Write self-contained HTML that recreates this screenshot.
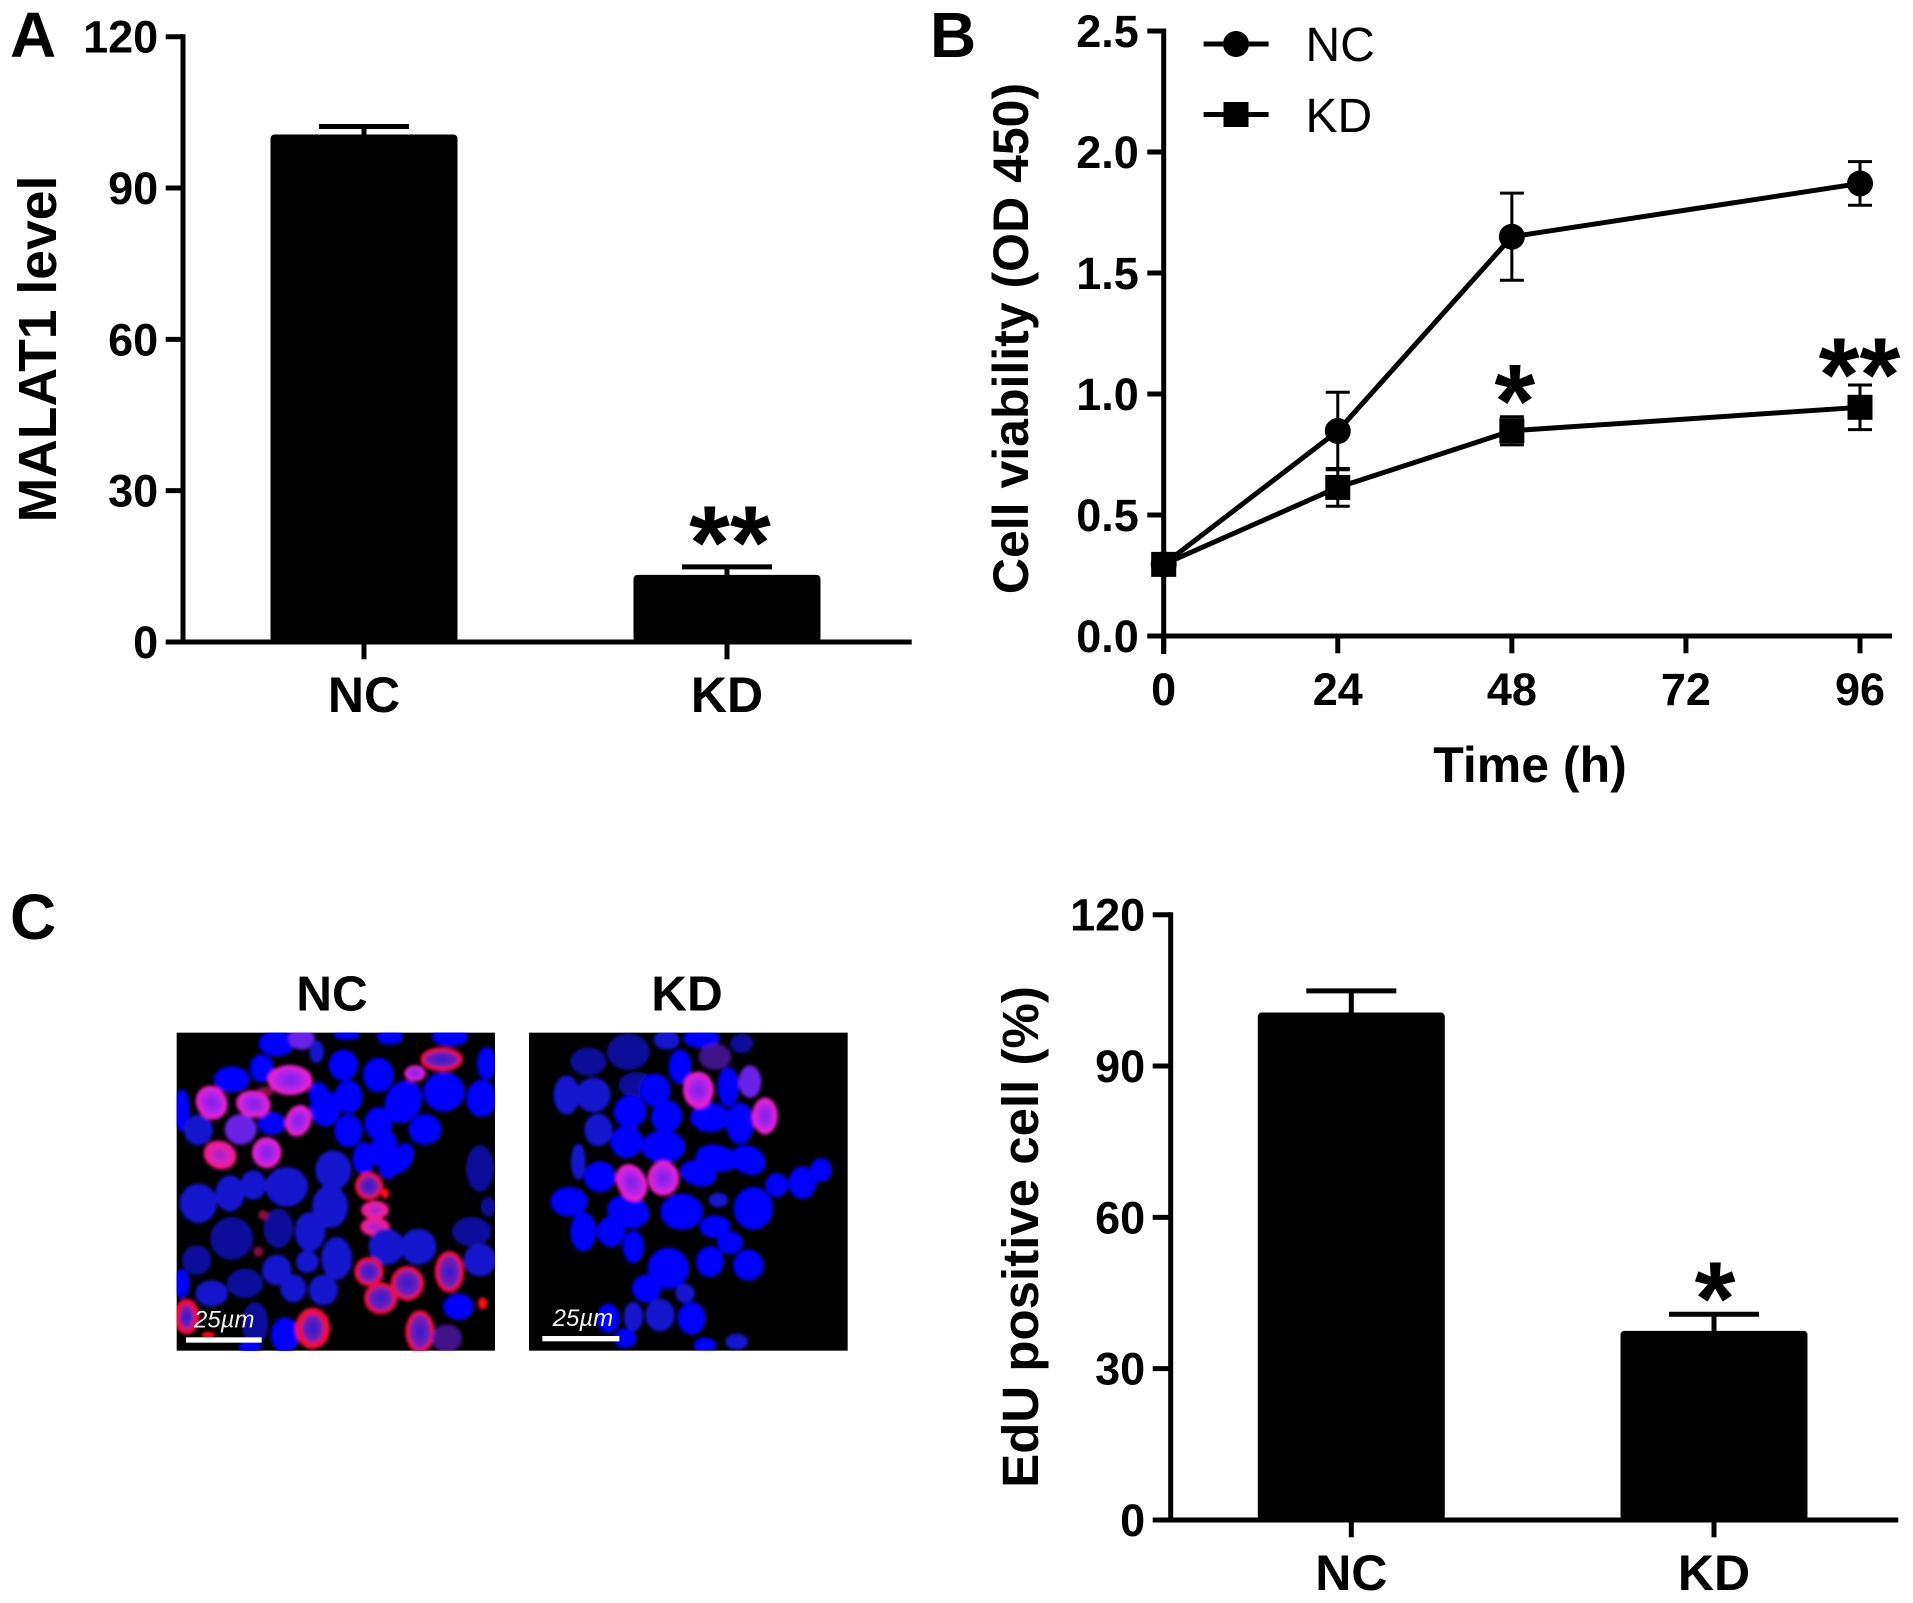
<!DOCTYPE html>
<html lang="en">
<head>
<meta charset="utf-8">
<title>MALAT1 knockdown figure</title>
<style>
html,body{margin:0;padding:0;background:#fff;}
svg{display:block;font-family:"Liberation Sans",sans-serif;}
.tt{font-size:50px;font-weight:bold;}
.pl{font-size:64px;font-weight:bold;}
.b{fill:#0606ff;stroke:#0606ff;stroke-width:8}
.d{fill:#1616cf;stroke:#1616cf;stroke-width:8}
.e{fill:#10109c;stroke:#10109c;stroke-width:8}
.p{fill:#6a22e6;stroke:#6a22e6;stroke-width:8}
.m{fill:url(#gm)}.k{fill:url(#gk)}
.r{fill:url(#gr);stroke:#f01040;stroke-width:12}
.s{fill:#ff0a14}.q{fill:#8a1040}
</style>
</head>
<body>
<svg id="fig" xmlns="http://www.w3.org/2000/svg" width="1913" height="1603" viewBox="0 0 1913 1603">
<defs>
<radialGradient id="gm"><stop offset="0" stop-color="#7a22ea"/><stop offset=".55" stop-color="#b024ea"/><stop offset="1" stop-color="#ff22c8"/></radialGradient>
<radialGradient id="gk"><stop offset="0" stop-color="#9a20d0"/><stop offset=".6" stop-color="#e020b0"/><stop offset="1" stop-color="#ff1a80"/></radialGradient>
<radialGradient id="gr"><stop offset="0" stop-color="#2a20d8"/><stop offset="1" stop-color="#9a1aa0"/></radialGradient>
<filter id="soft" x="-5%" y="-5%" width="110%" height="110%"><feGaussianBlur stdDeviation="5"/></filter>
<clipPath id="clipNc"><rect x="20" y="8" width="955" height="954"/></clipPath>
<clipPath id="clipKd"><rect x="12" y="8" width="956" height="954"/></clipPath>
</defs>

<text class="pl" x="10" y="57">A</text>
<text class="pl" x="930" y="57">B</text>
<text class="pl" x="10" y="939">C</text>

<text class="tt" style="font-size:53.5px" transform="translate(56 349) rotate(-90)" text-anchor="middle">MALAT1 level</text>
<text class="tt" transform="translate(1028 338.5) rotate(-90)" text-anchor="middle">Cell viability (OD 450)</text>
<text class="tt" x="1530" y="782" text-anchor="middle">Time (h)</text>
<text class="tt" style="font-size:51px" transform="translate(1038 1237) rotate(-90)" text-anchor="middle">EdU positive cell (%)</text>

<text x="332" y="1010.5" font-size="49.5" font-weight="bold" text-anchor="middle">NC</text>
<text x="687" y="1010.5" font-size="49.5" font-weight="bold" text-anchor="middle">KD</text>

<g transform="translate(170 1030) scale(.33333)">
<rect x="20" y="8" width="955" height="954" fill="#000"/>
<g clip-path="url(#clipNc)"><g filter="url(#soft)">
<ellipse class="b" cx="320" cy="40" rx="50" ry="35"/>
<ellipse class="p" cx="395" cy="25" rx="35" ry="30"/>
<ellipse class="d" cx="440" cy="65" rx="18" ry="30"/>
<ellipse class="b" cx="520" cy="105" rx="40" ry="42"/>
<ellipse class="b" cx="625" cy="135" rx="42" ry="48"/>
<ellipse class="b" cx="840" cy="20" rx="50" ry="25"/>
<ellipse class="b" cx="950" cy="100" rx="25" ry="45"/>
<ellipse class="b" cx="822" cy="185" rx="58" ry="55"/>
<ellipse class="b" cx="935" cy="205" rx="42" ry="52"/>
<ellipse class="b" cx="700" cy="215" rx="50" ry="62" transform="rotate(25 700 215)"/>
<ellipse class="b" cx="765" cy="298" rx="45" ry="42"/>
<ellipse class="b" cx="625" cy="280" rx="38" ry="45"/>
<ellipse class="b" cx="535" cy="302" rx="38" ry="45"/>
<ellipse class="b" cx="535" cy="200" rx="38" ry="46"/>
<ellipse class="b" cx="465" cy="235" rx="42" ry="50"/>
<ellipse class="b" cx="445" cy="190" rx="25" ry="30"/>
<ellipse class="b" cx="275" cy="115" rx="32" ry="38"/>
<ellipse class="b" cx="185" cy="148" rx="50" ry="35"/>
<ellipse class="b" cx="640" cy="355" rx="35" ry="50" transform="rotate(25 640 355)"/>
<ellipse class="b" cx="695" cy="385" rx="28" ry="45" transform="rotate(30 695 385)"/>
<ellipse class="b" cx="655" cy="415" rx="25" ry="28"/>
<ellipse class="b" cx="582" cy="385" rx="30" ry="45"/>
<ellipse class="b" cx="35" cy="240" rx="20" ry="58"/>
<ellipse class="d" cx="85" cy="300" rx="40" ry="42"/>
<ellipse class="b" cx="305" cy="280" rx="38" ry="30"/>
<ellipse class="b" cx="660" cy="20" rx="35" ry="20"/>
<ellipse class="b" cx="530" cy="15" rx="35" ry="10"/>
<ellipse class="p" cx="212" cy="298" rx="44" ry="42"/>
<ellipse class="m" cx="290" cy="368" rx="44" ry="46"/>
<ellipse class="m" cx="735" cy="130" rx="32" ry="24"/>
<ellipse class="q" cx="285" cy="185" rx="25" ry="15"/>
<ellipse class="m" cx="125" cy="218" rx="46" ry="52" transform="rotate(-30 125 218)"/>
<ellipse class="m" cx="250" cy="222" rx="52" ry="40" transform="rotate(10 250 222)"/>
<ellipse class="m" cx="360" cy="150" rx="67" ry="45"/>
<ellipse class="m" cx="385" cy="272" rx="38" ry="48" transform="rotate(20 385 272)"/>
<ellipse class="k" cx="150" cy="375" rx="50" ry="42" transform="rotate(20 150 375)"/>
<ellipse class="r" cx="815" cy="88" rx="58" ry="30"/>
<ellipse class="r" cx="597" cy="468" rx="36" ry="36"/>
<ellipse class="s" cx="645" cy="490" rx="12" ry="16"/>
<ellipse class="k" cx="615" cy="540" rx="42" ry="28"/>
<ellipse class="k" cx="615" cy="590" rx="44" ry="28"/>
<ellipse class="d" cx="85" cy="520" rx="52" ry="55"/>
<ellipse class="d" cx="180" cy="490" rx="40" ry="50"/>
<ellipse class="d" cx="250" cy="465" rx="35" ry="40"/>
<ellipse class="d" cx="350" cy="470" rx="60" ry="55"/>
<ellipse class="d" cx="490" cy="420" rx="50" ry="55"/>
<ellipse class="d" cx="480" cy="530" rx="50" ry="60"/>
<ellipse class="e" cx="185" cy="625" rx="60" ry="60"/>
<ellipse class="e" cx="325" cy="595" rx="40" ry="55"/>
<ellipse class="d" cx="420" cy="605" rx="42" ry="55"/>
<ellipse class="d" cx="500" cy="685" rx="42" ry="60"/>
<ellipse class="e" cx="80" cy="690" rx="40" ry="40"/>
<ellipse class="d" cx="320" cy="720" rx="40" ry="42"/>
<ellipse class="d" cx="412" cy="695" rx="30" ry="30"/>
<ellipse class="e" cx="225" cy="760" rx="50" ry="40"/>
<ellipse class="d" cx="125" cy="790" rx="45" ry="35"/>
<ellipse class="d" cx="370" cy="775" rx="35" ry="38"/>
<ellipse class="d" cx="460" cy="780" rx="40" ry="42"/>
<ellipse class="b" cx="35" cy="760" rx="20" ry="40"/>
<ellipse class="e" cx="930" cy="415" rx="38" ry="65"/>
<ellipse class="e" cx="955" cy="530" rx="18" ry="25"/>
<ellipse class="e" cx="905" cy="605" rx="55" ry="40"/>
<ellipse class="d" cx="745" cy="650" rx="50" ry="50"/>
<ellipse class="d" cx="650" cy="650" rx="50" ry="50"/>
<ellipse class="d" cx="930" cy="690" rx="45" ry="45"/>
<ellipse class="b" cx="865" cy="830" rx="42" ry="35"/>
<ellipse class="b" cx="345" cy="915" rx="38" ry="50"/>
<ellipse class="e" cx="255" cy="880" rx="35" ry="60"/>
<ellipse class="b" cx="240" cy="950" rx="30" ry="15"/>
<ellipse class="r" cx="597" cy="725" rx="38" ry="38"/>
<ellipse class="r" cx="632" cy="805" rx="44" ry="42"/>
<ellipse class="r" cx="712" cy="760" rx="44" ry="46"/>
<ellipse class="r" cx="838" cy="725" rx="38" ry="56"/>
<ellipse class="r" cx="750" cy="905" rx="38" ry="58"/>
<ellipse class="r" cx="428" cy="895" rx="42" ry="52" style="stroke-width:20"/>
<ellipse class="r" cx="50" cy="860" rx="30" ry="44" style="stroke-width:18"/>
<ellipse class="s" cx="115" cy="915" rx="20" ry="10"/>
<ellipse class="p" cx="830" cy="925" rx="42" ry="38" style="opacity:.6"/>
<ellipse class="s" cx="938" cy="820" rx="14" ry="18"/>
<ellipse class="q" cx="280" cy="555" rx="15" ry="15"/>
<ellipse class="q" cx="265" cy="665" rx="15" ry="15"/>
</g></g>
<rect x="48" y="922" width="227" height="16" fill="#fff"/>
<text x="72" y="893" font-size="72" font-style="italic" fill="#f4f4f4">25µm</text>
</g>

<g transform="translate(525 1030) scale(.33333)">
<rect x="12" y="8" width="956" height="954" fill="#000"/>
<g clip-path="url(#clipKd)"><g filter="url(#soft)">
<ellipse class="e" cx="190" cy="95" rx="50" ry="38"/>
<ellipse class="e" cx="310" cy="65" rx="60" ry="50"/>
<ellipse class="d" cx="425" cy="30" rx="35" ry="25"/>
<ellipse class="b" cx="530" cy="25" rx="50" ry="25"/>
<ellipse class="p" cx="570" cy="80" rx="45" ry="35" style="opacity:.6"/>
<ellipse class="d" cx="125" cy="195" rx="35" ry="55"/>
<ellipse class="d" cx="205" cy="195" rx="48" ry="48"/>
<ellipse class="e" cx="335" cy="165" rx="50" ry="35"/>
<ellipse class="d" cx="220" cy="300" rx="38" ry="45"/>
<ellipse class="d" cx="160" cy="395" rx="18" ry="50"/>
<ellipse class="e" cx="650" cy="40" rx="30" ry="25"/>
<ellipse class="b" cx="465" cy="110" rx="30" ry="48"/>
<ellipse class="b" cx="390" cy="180" rx="42" ry="45"/>
<ellipse class="b" cx="315" cy="245" rx="45" ry="45"/>
<ellipse class="b" cx="425" cy="260" rx="42" ry="45" transform="rotate(30 425 260)"/>
<ellipse class="b" cx="610" cy="170" rx="28" ry="55"/>
<ellipse class="b" cx="555" cy="262" rx="55" ry="40"/>
<ellipse class="b" cx="645" cy="280" rx="38" ry="58"/>
<ellipse class="b" cx="305" cy="335" rx="45" ry="45"/>
<ellipse class="b" cx="415" cy="350" rx="62" ry="45"/>
<ellipse class="b" cx="225" cy="440" rx="45" ry="42"/>
<ellipse class="b" cx="575" cy="385" rx="60" ry="36" transform="rotate(10 575 385)"/>
<ellipse class="b" cx="670" cy="390" rx="50" ry="38" transform="rotate(25 670 390)"/>
<ellipse class="b" cx="520" cy="430" rx="52" ry="34" transform="rotate(15 520 430)"/>
<ellipse class="b" cx="132" cy="515" rx="52" ry="40"/>
<ellipse class="b" cx="755" cy="465" rx="30" ry="32"/>
<ellipse class="b" cx="832" cy="458" rx="38" ry="45"/>
<ellipse class="b" cx="888" cy="420" rx="28" ry="32"/>
<ellipse class="b" cx="310" cy="545" rx="60" ry="45" transform="rotate(15 310 545)"/>
<ellipse class="b" cx="175" cy="605" rx="35" ry="55"/>
<ellipse class="b" cx="258" cy="605" rx="38" ry="42"/>
<ellipse class="b" cx="470" cy="545" rx="60" ry="50"/>
<ellipse class="b" cx="685" cy="535" rx="55" ry="60"/>
<ellipse class="d" cx="580" cy="510" rx="25" ry="18"/>
<ellipse class="b" cx="570" cy="590" rx="42" ry="30"/>
<ellipse class="b" cx="615" cy="638" rx="35" ry="30"/>
<ellipse class="b" cx="555" cy="695" rx="38" ry="42"/>
<ellipse class="b" cx="670" cy="705" rx="42" ry="42"/>
<ellipse class="b" cx="430" cy="715" rx="58" ry="58"/>
<ellipse class="b" cx="325" cy="650" rx="28" ry="45"/>
<ellipse class="b" cx="365" cy="775" rx="40" ry="38"/>
<ellipse class="d" cx="405" cy="855" rx="40" ry="45"/>
<ellipse class="d" cx="325" cy="860" rx="25" ry="40"/>
<ellipse class="d" cx="480" cy="790" rx="25" ry="25"/>
<ellipse class="b" cx="500" cy="865" rx="38" ry="45"/>
<ellipse class="b" cx="250" cy="865" rx="30" ry="40"/>
<ellipse class="b" cx="300" cy="925" rx="30" ry="25"/>
<ellipse class="b" cx="540" cy="945" rx="30" ry="18"/>
<ellipse class="d" cx="635" cy="935" rx="30" ry="20"/>
<ellipse class="m" cx="520" cy="180" rx="46" ry="55"/>
<ellipse class="m" cx="720" cy="258" rx="38" ry="55"/>
<ellipse class="p" cx="675" cy="155" rx="30" ry="45"/>
<ellipse class="m" cx="320" cy="458" rx="44" ry="58" transform="rotate(-25 320 458)"/>
<ellipse class="m" cx="415" cy="445" rx="47" ry="52"/>
</g></g>
<rect x="52" y="918" width="231" height="16" fill="#fff"/>
<text x="83" y="888" font-size="72" font-style="italic" fill="#f4f4f4">25µm</text>
</g>

<g id="chartA"></g>
<g id="chartB"></g>
<g id="chartC"></g>
</svg>

<script>
// Panel A data
const aCategories = ['NC', 'KD'];
const aValues = [100.6, 13.3];
const aErrors = [1.6, 1.6];
const aTicks = ['0', '30', '60', '90', '120'];
const aStars = ['', '**'];

// Panel B data
const bHours = [0, 24, 48, 96];
const bNc = [0.296, 0.847, 1.65, 1.87];
const bNcErrors = [0.02, 0.16, 0.18, 0.09];
const bKd = [0.296, 0.614, 0.848, 0.945];
const bKdErrors = [0.02, 0.078, 0.058, 0.092];
const bYTicks = ['0.0', '0.5', '1.0', '1.5', '2.0', '2.5'];
const bXTicks = ['0', '24', '48', '72', '96'];
const bStars = ['', '', '*', '**'];

// Panel C data
const cCategories = ['NC', 'KD'];
const cValues = [100.6, 37.5];
const cErrors = [4.3, 3.3];
const cTicks = ['0', '30', '60', '90', '120'];
const cStars = ['', '*'];

const SVGNS = 'http://www.w3.org/2000/svg';
function el(parent, tag, props, text) {
  const node = document.createElementNS(SVGNS, tag);
  for (const k in props) node.setAttribute(k, props[k]);
  if (text !== undefined) node.textContent = text;
  parent.appendChild(node);
  return node;
}
function hline(parent, x1, x2, y, w) {
  return el(parent, 'line', {x1: x1, x2: x2, y1: y, y2: y, stroke: '#000', 'stroke-width': w});
}
function vline(parent, x, y1, y2, w) {
  return el(parent, 'line', {x1: x, x2: x, y1: y1, y2: y2, stroke: '#000', 'stroke-width': w});
}

function drawBarChart(root, cfg, categories, values, errors, ticks, stars) {
  const yMax = Number(ticks[ticks.length - 1]);
  const yScale = function (v) { return cfg.y0 - (v / yMax) * (cfg.y0 - cfg.yTop); };
  const xScale = function (i) { return cfg.xFirst + i * cfg.xStep; };

  ticks.forEach(function (t) {
    const v = Number(t);
    const mark = hline(root, cfg.tickLeft, cfg.axisX, yScale(v), 5);
    
    
    const lab = el(root, 'text', {x: cfg.tickLeft - 7.5, y: yScale(v) + 16, 'text-anchor': 'end', 'font-size': 45, 'font-weight': 'bold'}, t);
    
    
  });

  categories.forEach(function (c, i) {
    const cx = xScale(i);
    const errLine = vline(root, cx, yScale(values[i]), yScale(values[i] + errors[i]), 5);
    
    
    const cap = hline(root, cx - cfg.capW / 2, cx + cfg.capW / 2, yScale(values[i] + errors[i]), 5);
    
    
    const bar = el(root, 'rect', {x: cx - cfg.barW / 2, y: yScale(values[i]), width: cfg.barW, height: yScale(0) - yScale(values[i]), rx: 4, fill: '#000'});
    
    
    const xt = vline(root, cx, cfg.y0, cfg.tickBottom, 5);
    
    
    const xl = el(root, 'text', {x: cx, y: cfg.labelY, 'text-anchor': 'middle', 'font-size': 50, 'font-weight': 'bold'}, c);
    
    
    if (stars[i]) {
      const st = el(root, 'text', {x: cx + cfg.starDx, y: yScale(values[i] + errors[i]) + cfg.starDy, 'text-anchor': 'middle', 'font-size': 105, 'font-weight': 'bold'}, stars[i]);
      
      
    }
  });

  const yAxis = vline(root, cfg.axisX, cfg.yTop - 2.5, cfg.y0 + 2.5, 5);
  
  
  const xAxis = hline(root, cfg.axisX, cfg.axisRight, cfg.y0, 5);
  
  
}

drawBarChart(document.getElementById('chartA'), {
  axisX: 183, yTop: 36.7, y0: 642, axisRight: 911.7, tickLeft: 165.7, tickBottom: 659.3,
  xFirst: 364, xStep: 363, barW: 187, capW: 90, labelY: 712, starDx: 3, starDy: 11.5
}, aCategories, aValues, aErrors, aTicks, aStars);

drawBarChart(document.getElementById('chartC'), {
  axisX: 1170.7, yTop: 914.7, y0: 1520, axisRight: 1898.3, tickLeft: 1152.7, tickBottom: 1537.3,
  xFirst: 1351.3, xStep: 362.7, barW: 187, capW: 90, labelY: 1590, starDx: 1, starDy: 20.5
}, cCategories, cValues, cErrors, cTicks, cStars);

// Panel B: line chart
const rootB = document.getElementById('chartB');
const bAxisX = 1163.7, bY0 = 636, bYTop = 31, bRight = 1892, bX96 = 1860;
function xB(h) { return bAxisX + (h / 96) * (bX96 - bAxisX); }
function yB(v) { return bY0 - (v / 2.5) * (bY0 - bYTop); }

bYTicks.forEach(function (t) {
  const v = Number(t);
  const mark = hline(rootB, 1147.3, bAxisX, yB(v), 5);
  
  
  const lab = el(rootB, 'text', {x: 1138.8, y: yB(v) + 16, 'text-anchor': 'end', 'font-size': 45, 'font-weight': 'bold'}, t);
  
  
});
bXTicks.forEach(function (t) {
  const h = Number(t);
  const mark = vline(rootB, xB(h), bY0, 653.3, 5);
  
  
  const lab = el(rootB, 'text', {x: xB(h), y: 705, 'text-anchor': 'middle', 'font-size': 45, 'font-weight': 'bold'}, t);
  
  
});
const bYAxis = vline(rootB, bAxisX, bYTop - 2.5, bY0 + 18, 5);


const bXAxis = hline(rootB, bAxisX, bRight, bY0, 5);



function drawSeries(name, values, errors, shape) {
  bHours.forEach(function (h, i) {
    const top = yB(values[i] + errors[i]);
    const bottom = yB(values[i] - errors[i]);
    const stem = vline(rootB, xB(h), top, bottom, 3);
    
    
    const capTop = hline(rootB, xB(h) - 12, xB(h) + 12, top, 3);
    
    
    const capBottom = hline(rootB, xB(h) - 12, xB(h) + 12, bottom, 3);
    
    
  });
  const pts = bHours.map(function (h, i) { return xB(h) + ',' + yB(values[i]); }).join(' ');
  const line = el(rootB, 'polyline', {points: pts, fill: 'none', stroke: '#000', 'stroke-width': 5, 'stroke-linejoin': 'round'});
  
  
  bHours.forEach(function (h, i) {
    const mk = shape === 'circle'
      ? el(rootB, 'circle', {cx: xB(h), cy: yB(values[i]), r: 13, fill: '#000'})
      : el(rootB, 'rect', {x: xB(h) - 12.5, y: yB(values[i]) - 12.5, width: 25, height: 25, fill: '#000'});
    
    
  });
}
drawSeries('nc', bNc, bNcErrors, 'circle');
drawSeries('kd', bKd, bKdErrors, 'square');

bHours.forEach(function (h, i) {
  if (bStars[i]) {
    const st = el(rootB, 'text', {x: xB(h) + (bStars[i].length === 2 ? -0.5 : 3), y: yB(bKd[i] + bKdErrors[i]) + (bStars[i].length === 2 ? 25.5 : 20.5), 'text-anchor': 'middle', 'font-size': 105, 'font-weight': 'bold'}, bStars[i]);
    
    
  }
});

// Legend
const ncLegendLine = hline(rootB, 1203.6, 1268.6, 44, 5);


const ncLegendMark = el(rootB, 'circle', {cx: 1236, cy: 44, r: 13, fill: '#000'});


const ncLegendText = el(rootB, 'text', {x: 1305.5, y: 61, 'font-size': 48}, 'NC');


const kdLegendLine = hline(rootB, 1203.6, 1268.6, 114.5, 5);


const kdLegendMark = el(rootB, 'rect', {x: 1223.5, y: 102, width: 25, height: 25, fill: '#000'});


const kdLegendText = el(rootB, 'text', {x: 1305.5, y: 132, 'font-size': 48}, 'KD');


</script>
</body>
</html>
